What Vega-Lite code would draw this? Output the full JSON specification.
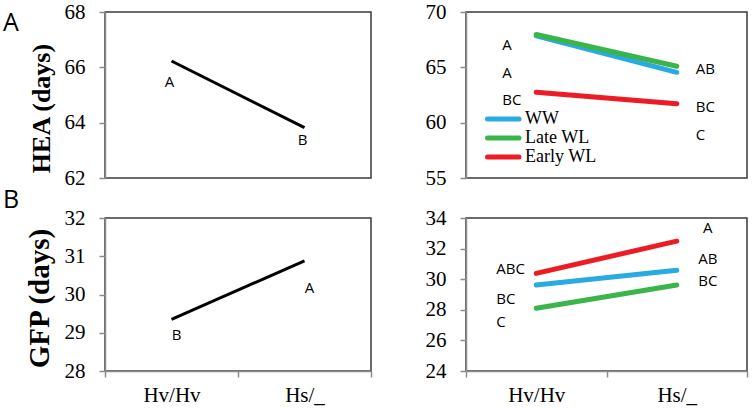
{
  "$schema": "https://vega.github.io/schema/vega-lite/v6.json",
  "padding": {"left": 2, "top": 0, "right": 6, "bottom": 0},
  "autosize": {"type": "pad"},
  "background": "white",
  "bounds": "flush",
  "columns": 2,
  "spacing": {"row": 40, "column": 95},
  "resolve": {"scale": {"color": "independent"}, "legend": {"color": "independent"}},
  "config": {
    "view": {"stroke": "#3a3a3a", "strokeWidth": 1.5},
    "axis": {
      "labelFont": "Liberation Serif", "labelFontSize": 21, "labelColor": "black", "labelOverlap": false,
      "domainColor": "#8c8c8c", "domainWidth": 1.5, "tickColor": "#8c8c8c", "tickWidth": 1.5, "tickSize": 6,
      "grid": false, "titleFont": "Liberation Serif", "titleFontWeight": "bold", "titleColor": "black"
    },
    "axisY": {"labelPadding": 14, "titlePadding": 10},
    "axisX": {"labelPadding": 7, "labelAngle": 0, "tickBand": "extent"},
    "title": {"font": "Open Sans", "fontSize": 25, "fontWeight": "normal", "color": "black", "anchor": "start", "frame": "group", "baseline": "top"}
  },
  "concat": [
    {
      "width": 266, "height": 166,
      "title": {"text": "A", "dx": -102, "offset": -35},
      "layer": [
        {
          "data": {"values": [{"geno": "Hv/Hv", "v": 66.23}, {"geno": "Hs/_", "v": 63.82}]},
          "mark": {"type": "line", "color": "black", "strokeWidth": 3},
          "encoding": {
            "x": {"field": "geno", "type": "nominal", "sort": ["Hv/Hv", "Hs/_"], "scale": {"type": "band", "paddingInner": 0, "paddingOuter": 0}, "axis": null},
            "y": {"field": "v", "type": "quantitative", "scale": {"domain": [62, 68], "nice": false, "zero": false}, "axis": {"values": [62, 64, 66, 68], "title": "HEA (days)", "titleFontSize": 26, "titleY": 96}}
          }
        },
        {
          "data": {"values": [{"geno": "Hv/Hv", "lab": "A", "v": 65.47}, {"geno": "Hs/_", "lab": "B", "v": 63.37}]},
          "mark": {"type": "text", "font": "Open Sans", "fontSize": 15, "color": "black", "dx": -2},
          "encoding": {
            "x": {"field": "geno", "type": "nominal", "sort": ["Hv/Hv", "Hs/_"], "axis": null},
            "y": {"field": "v", "type": "quantitative", "axis": {"values": [62, 64, 66, 68], "title": "HEA (days)", "titleFontSize": 26, "titleY": 96}},
            "text": {"field": "lab"}
          }
        }
      ]
    },
    {
      "width": 281, "height": 166,
      "layer": [
        {
          "data": {"values": [
            {"geno": "Hv/Hv", "trt": "WW", "v": 67.85}, {"geno": "Hs/_", "trt": "WW", "v": 64.55},
            {"geno": "Hv/Hv", "trt": "Late WL", "v": 67.97}, {"geno": "Hs/_", "trt": "Late WL", "v": 65.1},
            {"geno": "Hv/Hv", "trt": "Early WL", "v": 62.75}, {"geno": "Hs/_", "trt": "Early WL", "v": 61.7}
          ]},
          "mark": {"type": "line", "strokeWidth": 5, "strokeCap": "round"},
          "encoding": {
            "x": {"field": "geno", "type": "nominal", "sort": ["Hv/Hv", "Hs/_"], "scale": {"type": "band", "paddingInner": 0, "paddingOuter": 0}, "axis": null},
            "y": {"field": "v", "type": "quantitative", "scale": {"domain": [55, 70], "nice": false, "zero": false}, "axis": {"values": [55, 60, 65, 70], "title": null}},
            "color": {"field": "trt", "type": "nominal", "sort": ["WW", "Late WL", "Early WL"],
              "scale": {"domain": ["WW", "Late WL", "Early WL"], "range": ["#29abe2", "#3ab54a", "#ed1c24"]},
              "legend": {"orient": "none", "legendX": 12.5, "legendY": 98, "title": null, "padding": 0, "rowPadding": -2,
                "symbolType": "M0,0H7", "symbolSize": 81, "symbolStrokeWidth": 5,
                "labelFont": "Liberation Serif", "labelFontSize": 18, "labelColor": "black", "labelOffset": 28.5, "labelLimit": 0,
                "encode": {"symbols": {"update": {"strokeCap": {"value": "round"}}}}}
            }
          }
        },
        {
          "data": {"values": [
            {"geno": "Hv/Hv", "lab": "A", "v": 67.03}, {"geno": "Hv/Hv", "lab": "A", "v": 64.45}, {"geno": "Hv/Hv", "lab": "BC", "v": 62.03}
          ]},
          "mark": {"type": "text", "font": "Open Sans", "fontSize": 15, "color": "black", "align": "left", "dx": -34},
          "encoding": {
            "x": {"field": "geno", "type": "nominal", "sort": ["Hv/Hv", "Hs/_"], "axis": null},
            "y": {"field": "v", "type": "quantitative", "axis": {"values": [55, 60, 65, 70], "title": null}},
            "text": {"field": "lab"}
          }
        },
        {
          "data": {"values": [
            {"geno": "Hs/_", "lab": "AB", "v": 64.85}, {"geno": "Hs/_", "lab": "BC", "v": 61.45}, {"geno": "Hs/_", "lab": "C", "v": 58.85}
          ]},
          "mark": {"type": "text", "font": "Open Sans", "fontSize": 15, "color": "black", "align": "left", "dx": 19},
          "encoding": {
            "x": {"field": "geno", "type": "nominal", "sort": ["Hv/Hv", "Hs/_"], "axis": null},
            "y": {"field": "v", "type": "quantitative", "axis": {"values": [55, 60, 65, 70], "title": null}},
            "text": {"field": "lab"}
          }
        }
      ]
    },
    {
      "width": 266, "height": 153,
      "title": {"text": "B", "dx": -102, "offset": -6},
      "layer": [
        {
          "data": {"values": [{"geno": "Hv/Hv", "v": 29.35}, {"geno": "Hs/_", "v": 30.88}]},
          "mark": {"type": "line", "color": "black", "strokeWidth": 3},
          "encoding": {
            "x": {"field": "geno", "type": "nominal", "sort": ["Hv/Hv", "Hs/_"], "scale": {"type": "band", "paddingInner": 0, "paddingOuter": 0}, "axis": {"title": null}},
            "y": {"field": "v", "type": "quantitative", "scale": {"domain": [28, 32], "nice": false, "zero": false}, "axis": {"values": [28, 29, 30, 31, 32], "title": "GFP (days)", "titleFontSize": 29, "titleY": 80}}
          }
        },
        {
          "data": {"values": [{"geno": "Hv/Hv", "lab": "B", "v": 28.94}, {"geno": "Hs/_", "lab": "A", "v": 30.18}]},
          "mark": {"type": "text", "font": "Open Sans", "fontSize": 15, "color": "black", "dx": 5},
          "encoding": {
            "x": {"field": "geno", "type": "nominal", "sort": ["Hv/Hv", "Hs/_"], "axis": {"title": null}},
            "y": {"field": "v", "type": "quantitative", "axis": {"values": [28, 29, 30, 31, 32], "title": "GFP (days)", "titleFontSize": 29, "titleY": 80}},
            "text": {"field": "lab"}
          }
        }
      ]
    },
    {
      "width": 281, "height": 153,
      "layer": [
        {
          "data": {"values": [
            {"geno": "Hv/Hv", "trt": "WW", "v": 29.62}, {"geno": "Hs/_", "trt": "WW", "v": 30.58},
            {"geno": "Hv/Hv", "trt": "Late WL", "v": 28.1}, {"geno": "Hs/_", "trt": "Late WL", "v": 29.62},
            {"geno": "Hv/Hv", "trt": "Early WL", "v": 30.38}, {"geno": "Hs/_", "trt": "Early WL", "v": 32.49}
          ]},
          "mark": {"type": "line", "strokeWidth": 5, "strokeCap": "round"},
          "encoding": {
            "x": {"field": "geno", "type": "nominal", "sort": ["Hv/Hv", "Hs/_"], "scale": {"type": "band", "paddingInner": 0, "paddingOuter": 0}, "axis": {"title": null}},
            "y": {"field": "v", "type": "quantitative", "scale": {"domain": [24, 34], "nice": false, "zero": false}, "axis": {"values": [24, 26, 28, 30, 32, 34], "title": null}},
            "color": {"field": "trt", "type": "nominal", "sort": ["WW", "Late WL", "Early WL"],
              "scale": {"domain": ["WW", "Late WL", "Early WL"], "range": ["#29abe2", "#3ab54a", "#ed1c24"]},
              "legend": null}
          }
        },
        {
          "data": {"values": [
            {"geno": "Hv/Hv", "lab": "ABC", "v": 30.67}, {"geno": "Hv/Hv", "lab": "BC", "v": 28.69}, {"geno": "Hv/Hv", "lab": "C", "v": 27.22}
          ]},
          "mark": {"type": "text", "font": "Open Sans", "fontSize": 15, "color": "black", "align": "left", "dx": -40},
          "encoding": {
            "x": {"field": "geno", "type": "nominal", "sort": ["Hv/Hv", "Hs/_"], "axis": {"title": null}},
            "y": {"field": "v", "type": "quantitative", "axis": {"values": [24, 26, 28, 30, 32, 34], "title": null}},
            "text": {"field": "lab"}
          }
        },
        {
          "data": {"values": [
            {"geno": "Hs/_", "lab": "A", "v": 33.32}, {"geno": "Hs/_", "lab": "AB", "v": 31.35}, {"geno": "Hs/_", "lab": "BC", "v": 29.86}
          ]},
          "mark": {"type": "text", "font": "Open Sans", "fontSize": 15, "color": "black", "dx": 31},
          "encoding": {
            "x": {"field": "geno", "type": "nominal", "sort": ["Hv/Hv", "Hs/_"], "axis": {"title": null}},
            "y": {"field": "v", "type": "quantitative", "axis": {"values": [24, 26, 28, 30, 32, 34], "title": null}},
            "text": {"field": "lab"}
          }
        }
      ]
    }
  ]
}
